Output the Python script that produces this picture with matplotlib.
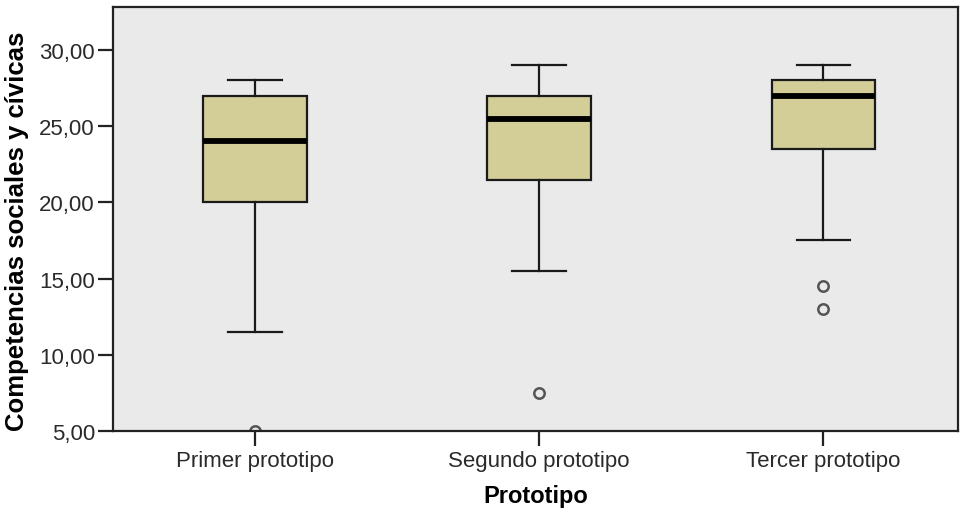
import matplotlib
matplotlib.use("Agg")
import matplotlib.pyplot as plt

# five-number summaries per prototype, plus outliers
categories = ["Primer prototipo", "Segundo prototipo", "Tercer prototipo"]
whisker_low = [11.5, 15.5, 17.5]
q1 = [20.0, 21.5, 23.5]
median = [24.0, 25.5, 27.0]
q3 = [27.0, 27.0, 28.0]
whisker_high = [28.0, 29.0, 29.0]
outliers = [[5.0], [7.5], [14.5, 13.0]]

yticks = [5, 10, 15, 20, 25, 30]
ytick_labels = ["5,00", "10,00", "15,00", "20,00", "25,00", "30,00"]

plt.rcParams["font.family"] = ["Liberation Sans", "DejaVu Sans"]

stats = []
for i, name in enumerate(categories):
    stats.append({
        "label": name,
        "whislo": whisker_low[i],
        "q1": q1[i],
        "med": median[i],
        "q3": q3[i],
        "whishi": whisker_high[i],
        "fliers": outliers[i],
    })

fig = plt.figure(figsize=(9.6, 5.1), dpi=100)
ax = fig.add_axes([113 / 960, 1 - 432 / 510, 845 / 960, 424 / 510])
ax.set_facecolor("#eaeaea")

ax.bxp(stats, positions=[0, 1, 2], widths=0.363, patch_artist=True,
       boxprops=dict(facecolor="#d3cd98", edgecolor="#1a1a1a", linewidth=1.6),
       medianprops=dict(color="black", linewidth=4.2, solid_capstyle="butt"),
       whiskerprops=dict(color="#1a1a1a", linewidth=1.6),
       capprops=dict(color="#1a1a1a", linewidth=1.6),
       capwidths=0.187,
       flierprops=dict(marker="o", markersize=7.5, markerfacecolor="none",
                       markeredgecolor="#555555", markeredgewidth=1.8))

ax.set_xlim(-0.5, 2.475)
ax.set_ylim(5, 32.82)
ax.set_yticks(yticks)
ax.set_yticklabels(ytick_labels)
ax.set_xticks([0, 1, 2])
ax.set_xticklabels(categories)

for side in ax.spines.values():
    side.set_linewidth(1.6)
    side.set_color("#222222")

ax.tick_params(axis="both", length=11, width=1.6, color="#222222",
               labelsize=16, labelcolor="#2a2a2a")
ax.tick_params(axis="y", pad=2)
ax.tick_params(axis="x", pad=3)

ax.set_xlabel("Prototipo", fontsize=17, fontweight="bold", labelpad=9)
ax.set_ylabel("Competencias sociales y cívicas", fontsize=18.5,
              fontweight="bold")
ax.yaxis.set_label_coords(-0.099, 0.473)

fig.savefig("out.png", dpi=100)
